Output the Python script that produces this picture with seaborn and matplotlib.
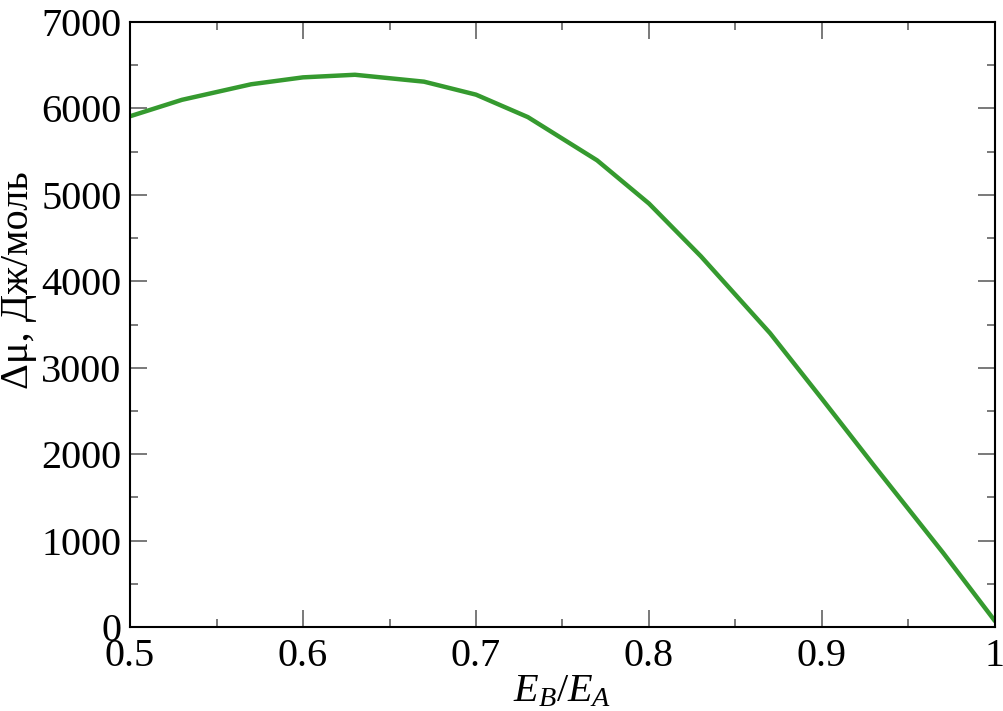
import matplotlib
matplotlib.use("Agg")
import matplotlib.pyplot as plt
from matplotlib.ticker import MultipleLocator, FormatStrFormatter
import pandas as pd
import seaborn as sns

# ratio of energies E_B/E_A
ratio = [0.5, 0.53, 0.57, 0.6, 0.63, 0.67, 0.7, 0.73, 0.77, 0.8,
         0.83, 0.87, 0.9, 0.93, 0.97, 1.0]
# chemical potential difference, J/mol
delta_mu = [5910, 6100, 6280, 6360, 6390, 6310, 6160, 5900, 5400, 4900,
            4290, 3400, 2640, 1870, 860, 70]

x_ticks = [0.5, 0.6, 0.7, 0.8, 0.9, 1.0]
y_ticks = [0, 1000, 2000, 3000, 4000, 5000, 6000, 7000]


def main():
    df = pd.DataFrame({"ratio": ratio, "dmu": delta_mu})

    sns.set_theme(style="ticks")
    plt.rcParams["font.family"] = ["Liberation Serif", "DejaVu Serif"]
    plt.rcParams["mathtext.fontset"] = "custom"
    plt.rcParams["mathtext.rm"] = "Liberation Serif"
    plt.rcParams["mathtext.it"] = "Liberation Serif:italic"
    plt.rcParams["text.color"] = "black"
    plt.rcParams["axes.labelcolor"] = "black"

    fig = plt.figure(figsize=(10.04, 7.11), dpi=100)
    ax = fig.add_axes([0.1295, 0.118, 0.8615, 0.851])

    sns.lineplot(data=df, x="ratio", y="dmu", ax=ax, color="#359a2f",
                 linewidth=3.2)

    ax.set_xlim(0.5, 1.0)
    ax.set_ylim(0, 7000)
    ax.set_xticks(x_ticks)
    ax.set_yticks(y_ticks)
    ax.xaxis.set_minor_locator(MultipleLocator(0.05))
    ax.yaxis.set_minor_locator(MultipleLocator(500))
    ax.xaxis.set_major_formatter(FormatStrFormatter("%g"))

    ax.tick_params(which="both", direction="in", top=True, right=True,
                   color="#555555", width=1.1, labelcolor="black")
    ax.tick_params(which="major", length=12, labelsize=29, pad=6)
    ax.tick_params(which="minor", length=6)
    ax.tick_params(axis="x", which="major", pad=8)
    for sp in ax.spines.values():
        sp.set_linewidth(1.5)
        sp.set_color("black")

    ax.set_xlabel(r"$E_B/E_A$", fontsize=29)
    ax.xaxis.set_label_coords(0.5, -0.077)
    ax.set_ylabel("Δμ, Дж/моль", fontsize=29)
    ax.yaxis.set_label_coords(-0.108, 0.574)

    fig.savefig("out.png", dpi=100)


if __name__ == "__main__":
    main()
